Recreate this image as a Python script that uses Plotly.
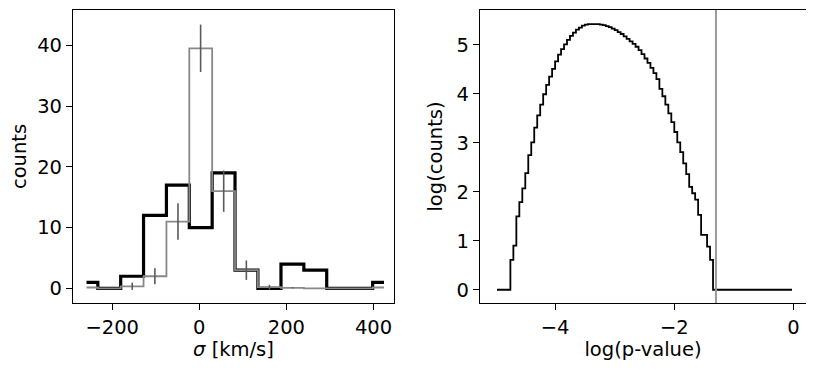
import numpy as np
import plotly.graph_objects as go

# left panel: velocity dispersion histograms (bin centres in km/s)
sigma_centers = [-259, -207, -154, -102, -49, 3, 56, 108, 161, 214, 266, 319, 372, 424]
counts_obs = [1, 0, 2, 12, 17, 10, 19, 3, 0, 4, 3, 0, 0, 1]
counts_model = [0.15, 0, 0.35, 2, 11, 39.5, 16, 3, 0.2, 0.1, 0, 0, 0, 0.15]
model_err = [0, 0, 0.6, 1.3, 3.0, 3.9, 3.4, 1.6, 0.4, 0.1, 0, 0, 0, 0]

# right panel: histogram of log p-values (bin centres)
logp_centers = [round(-4.975 + 0.05 * i, 3) for i in range(100)]
logcounts = [
    0, 0, 0, 0, 0, 0.61, 0.90, 1.50, 1.79, 2.07,
    2.38, 2.75, 3.01, 3.31, 3.56, 3.78, 3.99, 4.18, 4.35, 4.51,
    4.66, 4.80, 4.91, 5.01, 5.10, 5.18, 5.25, 5.31, 5.35, 5.39,
    5.41, 5.42, 5.42, 5.42, 5.42, 5.41, 5.40, 5.38, 5.36, 5.33,
    5.30, 5.26, 5.22, 5.17, 5.12, 5.07, 5.02, 4.96, 4.89, 4.81,
    4.72, 4.63, 4.53, 4.42, 4.30, 4.10, 3.95, 3.78, 3.60, 3.42,
    3.22, 3.01, 2.81, 2.58, 2.36, 2.10, 1.97, 1.84, 1.53, 1.12,
    1.12, 0.88, 0.61, 0, 0, 0, 0, 0, 0, 0,
    0, 0, 0, 0, 0, 0, 0, 0, 0, 0,
    0, 0, 0, 0, 0, 0, 0, 0, 0, 0,
]
p_threshold = 0.05

font = dict(family="DejaVu Sans", size=19.5, color="black")

# the page body has an 8px margin, so the figure is 8px smaller than the window
W, H = 806, 362

fig = go.Figure()
fig.add_trace(go.Scatter(x=sigma_centers, y=counts_obs, mode="lines", line_shape="hvh",
                         line=dict(color="black", width=3.2), xaxis="x", yaxis="y"))
fig.add_trace(go.Scatter(x=sigma_centers, y=counts_model, mode="lines", line_shape="hvh",
                         line=dict(color="#888888", width=1.8), xaxis="x", yaxis="y"))
fig.add_trace(go.Scatter(x=sigma_centers[2:10], y=counts_model[2:10], mode="markers",
                         marker=dict(size=1, color="rgba(0,0,0,0)"),
                         error_y=dict(type="data", array=model_err[2:10], width=0,
                                      thickness=1.6, color="#5a5a5a"),
                         xaxis="x", yaxis="y"))

fig.add_trace(go.Scatter(x=logp_centers, y=logcounts, mode="lines", line_shape="hvh",
                         line=dict(color="black", width=1.8), xaxis="x2", yaxis="y2"))

fig.add_shape(type="line", x0=np.log10(p_threshold), x1=np.log10(p_threshold),
              y0=0, y1=1, xref="x2", yref="y2 domain",
              line=dict(color="#999999", width=2))

axis_style = dict(showgrid=False, zeroline=False, showline=True, linecolor="black",
                  linewidth=1.2, mirror=True, ticks="outside", ticklen=6, tickwidth=1.2,
                  tickcolor="black", tickfont=font)

fig.update_layout(
    width=W, height=H,
    margin=dict(l=0, r=0, t=2, b=67),
    paper_bgcolor="white", plot_bgcolor="white",
    showlegend=False,
    font=font,
    xaxis=dict(domain=[65 / W, 386 / W], range=[-290, 447],
               tickvals=[-200, 0, 200, 400],
               title=dict(text="<i>σ</i> [km/s]", font=font, standoff=4), **axis_style),
    yaxis=dict(domain=[0, 1], range=[-2.4, 45.8], tickvals=[0, 10, 20, 30, 40],
               title=dict(text="counts", font=font, standoff=8), **axis_style),
    xaxis2=dict(domain=[472 / W, 798 / W], range=[-5.26, 0.21], anchor="y2",
                tickvals=[-4, -2, 0],
                title=dict(text="log(p-value)", font=font, standoff=4), **axis_style),
    yaxis2=dict(domain=[0, 1], range=[-0.27, 5.71], anchor="x2",
                tickvals=[0, 1, 2, 3, 4, 5],
                title=dict(text="log(counts)", font=font, standoff=8), **axis_style),
)

fig.write_html("out.html")
